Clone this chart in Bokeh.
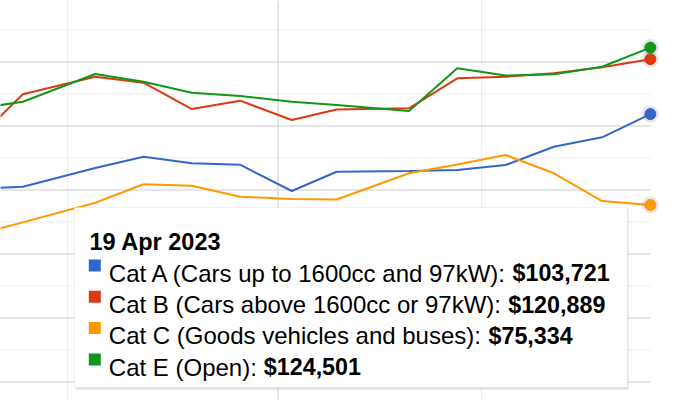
import datetime as dt
from bokeh.plotting import figure
from bokeh.models import Range1d, BoxAnnotation, Label
from bokeh.embed import file_html
from bokeh.resources import INLINE

# ---------------- data ----------------
dates = ["2022-10-05", "2022-10-19", "2022-11-09", "2022-11-23", "2022-12-07",
         "2022-12-21", "2023-01-05", "2023-01-18", "2023-02-08", "2023-02-22",
         "2023-03-08", "2023-03-22", "2023-04-05", "2023-04-19"]
cat_a = [80300, 81030, 86880, 90410, 88340, 87910, 79690, 85690, 85940, 86250,
         87810, 93530, 96470, 103721]
cat_b = [95130, 109910, 115410, 113530, 105310, 107910, 101880, 105160, 105530,
         114910, 115410, 116470, 118340, 120889]
cat_c = [65940, 69880, 76030, 81780, 81340, 77910, 77190, 77030, 85220, 87970,
         90940, 85220, 76560, 75334]
cat_e = [105340, 107590, 116250, 113840, 110410, 109380, 107590, 106560, 104690,
         118030, 115780, 116160, 118530, 124501]
series_names = ["Cat A (Cars up to 1600cc and 97kW)",
                "Cat B (Cars above 1600cc or 97kW)",
                "Cat C (Goods vehicles and buses)",
                "Cat E (Open)"]
series_values = [cat_a, cat_b, cat_c, cat_e]
tooltip_title = "19 Apr 2023"
tooltip_values = ["$103,721", "$120,889", "$75,334", "$124,501"]
y_major_ticks = [20000, 40000, 60000, 80000, 100000, 120000]
y_minor_ticks = [30000, 50000, 70000, 90000, 110000, 130000]
x_major_ticks = ["2023-01-01"]
x_minor_ticks = ["2022-11-01", "2023-03-01"]

# ---------------- style ----------------
colors = ["#3366cc", "#dc3912", "#ff9900", "#109618"]
W, H = 684, 400
FONT = "Liberation Sans"

def to_dt(s):
    return dt.datetime.strptime(s, "%Y-%m-%d")

def to_ms(s):
    return (to_dt(s) - dt.datetime(1970, 1, 1)).total_seconds() * 1000.0

DAY = 86400000.0
PX_PER_DAY = 3.448
x_start = to_ms("2023-01-01") - 277.5 / PX_PER_DAY * DAY
x_end = x_start + W / PX_PER_DAY * DAY
PX_PER_UNIT = 0.0032
y_top = 100000 + 125.5 / PX_PER_UNIT
y_bottom = y_top - H / PX_PER_UNIT

def xd(px):
    return x_start + px * (x_end - x_start) / W

def yd(py):
    return y_top - py * (y_top - y_bottom) / H

p = figure(width=W, height=H, output_backend="svg", toolbar_location=None,
           x_axis_location=None, y_axis_location=None,
           x_range=Range1d(x_start, x_end), y_range=Range1d(y_bottom, y_top),
           min_border=0, min_border_left=0, min_border_right=0,
           min_border_top=0, min_border_bottom=0)
p.outline_line_color = None
p.grid.visible = False
p.background_fill_color = "white"

xs = [to_dt(d) for d in dates]
last_x = xs[-1]

# grid lines
p.segment(x0=[xs[0] - dt.timedelta(days=120)] * len(y_minor_ticks), x1=[last_x] * len(y_minor_ticks),
          y0=y_minor_ticks, y1=y_minor_ticks, line_color="#ebebeb", line_width=1)
p.segment(x0=[to_dt(d) for d in x_minor_ticks], x1=[to_dt(d) for d in x_minor_ticks],
          y0=[y_bottom] * len(x_minor_ticks), y1=[y_top] * len(x_minor_ticks),
          line_color="#ebebeb", line_width=1)
p.segment(x0=[xs[0] - dt.timedelta(days=120)] * len(y_major_ticks), x1=[last_x] * len(y_major_ticks),
          y0=y_major_ticks, y1=y_major_ticks, line_color="#cccccc", line_width=1)
p.segment(x0=[to_dt(d) for d in x_major_ticks], x1=[to_dt(d) for d in x_major_ticks],
          y0=[y_bottom] * len(x_major_ticks), y1=[y_top] * len(x_major_ticks),
          line_color="#cccccc", line_width=1)

for vals, c in zip(series_values, colors):
    p.line(xs, vals, line_color=c, line_width=2)

for vals, c in zip(series_values, colors):
    p.scatter([last_x], [vals[-1]], size=17, fill_color="#777777", fill_alpha=0.18,
              line_color=None)
    p.scatter([last_x], [vals[-1]], size=11, fill_color=c, line_color=c)

# tooltip
p.add_layout(BoxAnnotation(left=xd(75), right=xd(628), top=yd(208), bottom=yd(389),
                           fill_color="#000000", fill_alpha=0.12, line_color=None,
                           level="overlay"))
p.add_layout(BoxAnnotation(left=xd(74), right=xd(627), top=yd(207), bottom=yd(387),
                           fill_color="white", fill_alpha=1.0, line_color="#cccccc",
                           line_width=1, level="overlay"))
p.add_layout(Label(x=xd(89), y=yd(241.7), text=tooltip_title, text_font=FONT,
                   text_font_size="23.5px", text_font_style="bold", text_color="#000000",
                   text_baseline="alphabetic", level="overlay"))
row_base = [272.7, 304.0, 335.3, 366.7]
bold_x = [512, 507.7, 488, 263.3]
for i, (name, val, c) in enumerate(zip(series_names, tooltip_values, colors)):
    b = row_base[i]
    p.add_layout(BoxAnnotation(left=xd(88.3), right=xd(100.3), top=yd(b - 13.7),
                               bottom=yd(b - 1.7), fill_color=c, fill_alpha=1.0,
                               line_color=None, level="overlay"))
    p.add_layout(Label(x=xd(108.3), y=yd(b), text=name + ": ", text_font=FONT,
                       text_font_size="24px", text_color="#000000",
                       text_baseline="alphabetic", level="overlay"))
    p.add_layout(Label(x=xd(bold_x[i]), y=yd(b), text=val, text_font=FONT,
                       text_font_size="23.3px", text_font_style="bold",
                       text_color="#000000", text_baseline="alphabetic", level="overlay"))

open("out.html", "w").write(file_html(p, INLINE))
